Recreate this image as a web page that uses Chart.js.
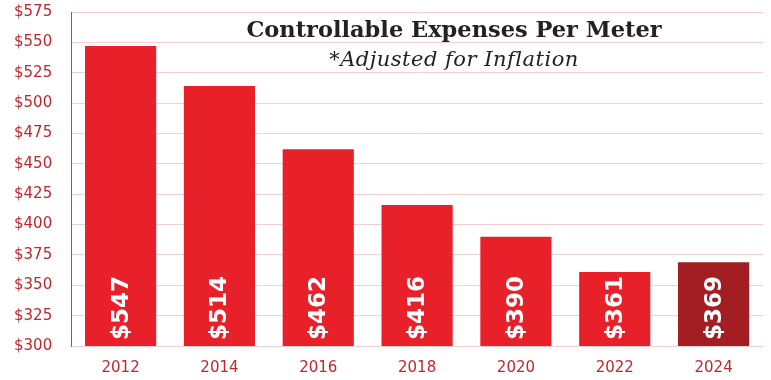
<!DOCTYPE html>
<html>
<head>
<meta charset="utf-8">
<script src="https://cdn.jsdelivr.net/npm/chart.js@4.4.0/dist/chart.umd.min.js"></script>
<style>
  html, body { margin: 0; padding: 0; background: #fff; }
  #wrap { width: 771px; height: 380px; }
</style>
</head>
<body>
<div id="wrap"><canvas id="expChart" width="771" height="380"></canvas></div>
<script>
"use strict";

const years = ["2012", "2014", "2016", "2018", "2020", "2022", "2024"];
const expensePerMeter = [547, 514, 462, 416, 390, 361, 369];
const barColors = ["#E8202A", "#E8202A", "#E8202A", "#E8202A", "#E8202A", "#E8202A", "#A21E23"];
const titleLines = ["Controllable Expenses Per Meter", "*Adjusted for Inflation"];

// white rotated value labels + title inside the plot
const labelPlugin = {
  id: "labelPlugin",
  afterDatasetsDraw(chart) {
    const ctx = chart.ctx;
    const meta = chart.getDatasetMeta(0);
    const yScale = chart.scales.y;
    ctx.save();
    ctx.fillStyle = "#ffffff";
    ctx.font = "bold 23px 'DejaVu Sans'";
    ctx.textAlign = "left";
    ctx.textBaseline = "middle";
    meta.data.forEach((bar, i) => {
      ctx.save();
      ctx.translate(bar.x, yScale.bottom - 6);
      ctx.rotate(-Math.PI / 2);
      ctx.fillText("$" + expensePerMeter[i], 0, 1);
      ctx.restore();
    });
    // title
    ctx.fillStyle = "#222222";
    ctx.textAlign = "center";
    ctx.textBaseline = "alphabetic";
    ctx.font = "bold 22.5px 'DejaVu Serif'";
    ctx.fillText(titleLines[0], 454, 37);
    ctx.font = "italic 21px 'DejaVu Serif'";
    ctx.letterSpacing = "0.5px";
    ctx.fillText(titleLines[1], 454, 66);
    ctx.restore();
  }
};

const chart = new Chart(document.querySelector("#expChart"), {
  type: "bar",
  data: {
    labels: years,
    datasets: [
      {
        data: expensePerMeter,
        backgroundColor: barColors,
        barPercentage: 0.72,
        categoryPercentage: 1.0,
      },
    ],
  },
  options: {
    responsive: false,
    animation: false,
    layout: { padding: { top: 12, right: 8, left: -5, bottom: -2 } },
    plugins: {
      legend: { display: false },
      tooltip: { enabled: false },
    },
    scales: {
      x: {
        grid: { display: false },
        border: { display: false },
        ticks: {
          color: "#C0272D",
          font: { family: "DejaVu Sans", size: 15 },
          padding: 5,
        },
      },
      y: {
        min: 300,
        max: 575,
        grid: { color: "#F6CFD2", drawTicks: false },
        border: { display: true, color: "#4A6FA5", width: 1 },
        ticks: {
          stepSize: 25,
          color: "#C0272D",
          font: { family: "DejaVu Sans", size: 15 },
          padding: 19,
          callback: (v) => "$" + v,
        },
        // tick padding would otherwise push the plot down from the top
        afterFit: (scale) => {
          scale.paddingTop = 0;
          scale.paddingBottom = 0;
        },
      },
    },
  },
  plugins: [labelPlugin],
});
</script>
</body>
</html>
